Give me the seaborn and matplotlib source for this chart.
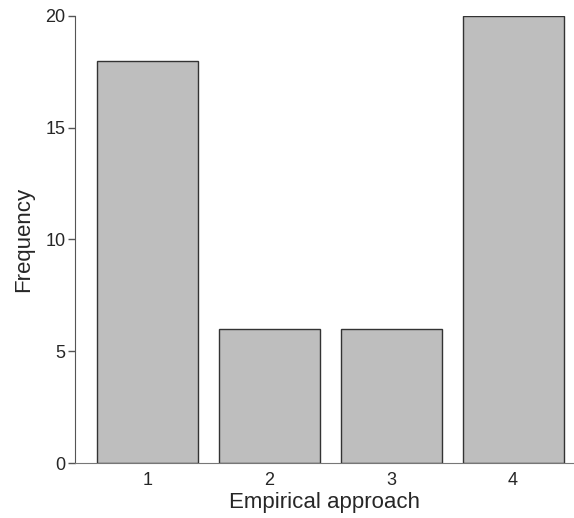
import numpy as np
import pandas as pd
import matplotlib
matplotlib.use('Agg')
import matplotlib.pyplot as plt
import seaborn as sns

approach = ['1', '2', '3', '4']
frequency = [18, 6, 6, 20]
df = pd.DataFrame({'approach': approach, 'frequency': frequency})

sns.set_style('white')
plt.rcParams['font.family'] = ['Liberation Sans', 'DejaVu Sans']

fig = plt.figure(figsize=(5.74, 5.18), dpi=100)
ax = fig.add_axes([75/574, 1 - 463/518, 1 - 75/574, (463 - 16)/518])

sns.barplot(data=df, x='approach', y='frequency', color='#bebebe',
            saturation=1, width=0.828, edgecolor='#333333', linewidth=1, ax=ax)

ax.set_xlim(-0.594, 3.5)
ax.set_ylim(0, 20)
ax.set_yticks([0, 5, 10, 15, 20])
for s in ['top', 'right']:
    ax.spines[s].set_visible(False)
ax.spines['left'].set_color('#555555')
ax.spines['bottom'].set_color('#777777')
ax.tick_params(axis='y', left=True, length=5, width=1, color='#555555',
               labelsize=13, pad=2)
ax.tick_params(axis='x', bottom=False, labelsize=13, pad=3)
ax.set_xlabel('Empirical approach', fontsize=16, labelpad=2)
ax.set_ylabel('Frequency', fontsize=16, labelpad=8)

fig.savefig('out.png', dpi=100)
